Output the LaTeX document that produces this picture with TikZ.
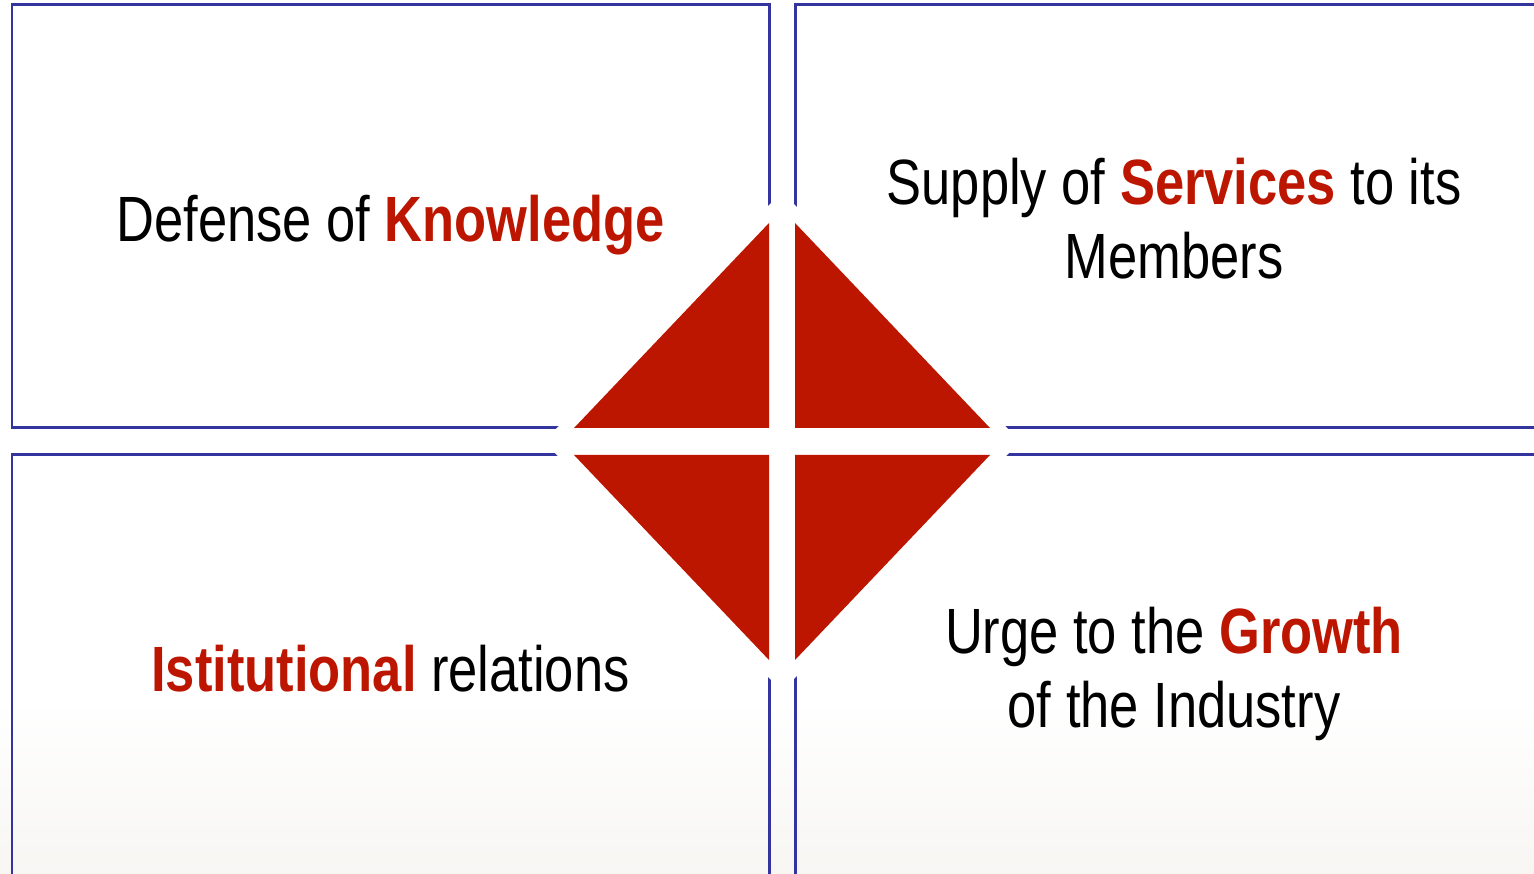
\documentclass[tikz,border=0pt]{standalone}
\usepackage{fontspec}
\setmainfont{Liberation Sans}[FakeStretch=0.82]
\definecolor{knred}{RGB}{189,22,0}
\definecolor{boxblue}{RGB}{52,52,158}
\definecolor{paper}{RGB}{247,246,243}
\tikzset{
    areabox/.style={draw=boxblue,line width=0.85pt},
    arealabel/.style={anchor=base,align=center,inner sep=0pt,
        font=\fontsize{18.2}{21.3}\selectfont}
}
\newcommand{\kw}[1]{\textcolor{knred}{\textbf{#1}}}
\begin{document}
\begin{tikzpicture}[x=0.01cm,y=-0.01cm]
    \useasboundingbox (0,0) rectangle (1534,874);
    \clip (0,0) rectangle (1534,874);
    %% paper, greying towards the foot
    \fill[white] (0,0) rectangle (1534,874);
    \shade[top color=white,bottom color=paper] (0,700) rectangle (1534,874);
    %% four areas
    \draw[areabox] (12,5) rectangle (769,428);
    \draw[areabox] (795,5) rectangle (1560,428);
    \draw[areabox] (12,455) rectangle (769,900);
    \draw[areabox] (795,455) rectangle (1560,900);
    %% white halo round the diamond
    \filldraw[white,line width=7pt,line join=round]
        (561,441.5) -- (782,209.3) -- (1003,441.5) -- (782,673.7) -- cycle;
    %% red diamond, cut by the cross
    \foreach \sx in {-1,1}
        \foreach \sy in {-1,1} {
            \fill[knred] (782+\sx*13,441.5+\sy*13.5) -- (782+\sx*13,441.5+\sy*218.5)
                -- (782+\sx*208,441.5+\sy*13.5) -- cycle;
        }
    %% labels
    \node[arealabel] (knowledge) at (390.5,242) {Defense of \kw{Knowledge}};
    \node[arealabel] (services) at (1174,279) {Supply of \kw{Services} to its\\Members};
    \node[arealabel] (relations) at (390.5,692) {\kw{Istitutional} relations};
    \node[arealabel] (growth) at (1174,728) {Urge to the \kw{Growth}\\of the Industry};
\end{tikzpicture}
\end{document}
